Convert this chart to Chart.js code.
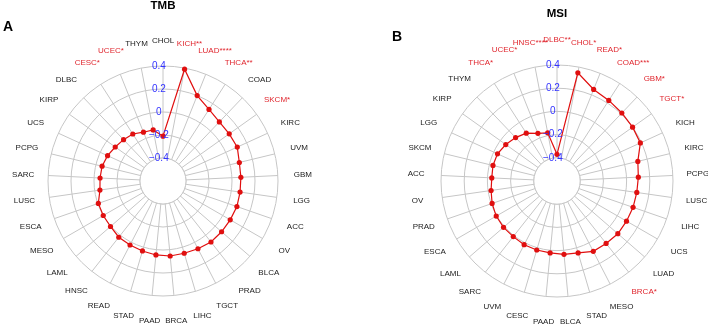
<!DOCTYPE html>
<html>
<head>
<meta charset="utf-8">
<script src="https://cdn.jsdelivr.net/npm/chart.js@4"></script>
<style>
  html, body { margin: 0; padding: 0; background: #fff; overflow: hidden; }
  body { width: 708px; height: 326px; position: relative; }
  canvas { position: absolute; top: 0; }
  #tmb { left: 0; }
  #msi { left: 354px; }
</style>
</head>
<body>
<canvas id="tmb" width="354" height="326" style="width:354px;height:326px"></canvas>
<canvas id="msi" width="354" height="326" style="width:354px;height:326px"></canvas>
<script>
const tmbCancers = ["CHOL", "KICH**", "LUAD****", "THCA**", "COAD", "SKCM*", "KIRC", "UVM", "GBM", "LGG", "ACC",
  "OV", "BLCA", "PRAD", "TGCT", "LIHC", "BRCA", "PAAD", "STAD", "READ", "HNSC", "LAML", "MESO", "ESCA",
  "LUSC", "SARC", "PCPG", "UCS", "KIRP", "DLBC", "CESC*", "UCEC*", "THYM"];
const tmbValues = [-0.21, 0.39, 0.2, 0.14, 0.11, 0.107, 0.11, 0.083, 0.078, 0.077, 0.08,
  0.075, 0.074, 0.075, 0.063, 0.055, 0.055, 0.046, 0.034, 0.026, 0.022, 0.004, 0.0, -0.005,
  -0.046, -0.052, -0.055, -0.07, -0.09, -0.103, -0.114, -0.143, -0.148];

const msiCancers = ["DLBC**", "CHOL*", "READ*", "COAD***", "GBM*", "TGCT*", "KICH", "KIRC", "PCPG", "LUSC", "LIHC",
  "UCS", "LUAD", "BRCA*", "MESO", "STAD", "BLCA", "PAAD", "CESC", "UVM", "SARC", "LAML", "ESCA",
  "PRAD", "OV", "ACC", "SKCM", "LGG", "KIRP", "THYM", "THCA*", "UCEC*", "HNSC****"];
const msiValues = [-0.37, 0.35, 0.25, 0.226, 0.21, 0.2, 0.19, 0.117, 0.102, 0.095, 0.094,
  0.092, 0.094, 0.085, 0.082, 0.046, 0.035, 0.023, 0.02, 0.018, 0.01, 0.01, 0.005,
  -0.008, -0.026, -0.037, -0.032, -0.036, -0.058, -0.083, -0.11, -0.157, -0.177];

// scale runs from -0.6 (centre) so that the -0.4 ring leaves a hole
const axisMin = -0.6;
const axisMax = 0.4;
const holeValue = -0.4;

const red = "#e00f0f";
const labelRed = "#e0262e";
const gridColor = "#c6c6c6";
const tickBlue = "#3333ff";
const fontFamily = "'Liberation Sans', Arial, sans-serif";

function makeRadar(id, labels, values, title, pad) {
  const radarExtras = {
    id: "radarExtras",
    beforeDatasetsDraw(chart) {
      const r = chart.scales.r;
      const ctx = chart.ctx;
      const rad = r.getDistanceFromCenterForValue(holeValue);
      ctx.save();
      ctx.beginPath();
      ctx.arc(r.xCenter, r.yCenter, rad, 0, Math.PI * 2);
      ctx.fillStyle = "#fff";
      ctx.fill();
      ctx.strokeStyle = gridColor;
      ctx.lineWidth = 1;
      ctx.stroke();
      ctx.restore();
    },
    afterDraw(chart) {
      const r = chart.scales.r;
      const ctx = chart.ctx;
      ctx.save();
      // category names, centred on a ring outside the plot
      ctx.textBaseline = "middle";
      ctx.textAlign = "center";
      ctx.font = "8px " + fontFamily;
      chart.data.labels.forEach((name, i) => {
        const p = r.getPointPosition(i, r.drawingArea + 25);
        ctx.fillStyle = name.includes("*") ? labelRed : "#222";
        ctx.fillText(name, p.x, p.y);
      });
      ctx.fillStyle = "#000";
      ctx.font = "bold 11.5px " + fontFamily;
      ctx.fillText(title.text, title.x, title.y);
      ctx.textAlign = "left";
      ctx.font = "bold 14px " + fontFamily;
      ctx.fillText(title.letter, title.lx, title.ly);
      ctx.restore();
    },
  };

  return new Chart(document.getElementById(id), {
    type: "radar",
    data: {
      labels: labels,
      datasets: [
        {
          data: values,
          borderColor: red,
          backgroundColor: red,
          borderWidth: 1.2,
          fill: false,
          pointRadius: 2.6,
          pointBorderWidth: 0,
          pointBackgroundColor: red,
          tension: 0,
        },
      ],
    },
    options: {
      responsive: false,
      animation: false,
      layout: { padding: pad },
      plugins: {
        legend: { display: false },
        tooltip: { enabled: false },
      },
      scales: {
        r: {
          min: axisMin,
          max: axisMax,
          startAngle: 0,
          grid: { circular: true, color: gridColor, lineWidth: 1 },
          angleLines: { color: gridColor, lineWidth: 1 },
          pointLabels: { display: false },
          ticks: {
            z: 1,
            stepSize: 0.2,
            showLabelBackdrop: false,
            color: tickBlue,
            font: { family: fontFamily, size: 10 },
            callback: function (value) {
              const v = Math.round(value * 10) / 10;
              if (v < holeValue) return "";
              // trailing spaces nudge the centred label to the left of the axis
              if (v === 0) return "0   ";
              return (v < 0 ? "\u2212" : "") + Math.abs(v).toFixed(1) + "   ";
            },
          },
        },
      },
    },
    plugins: [radarExtras],
  });
}

makeRadar("tmb", tmbCancers, tmbValues,
  { text: "TMB", x: 163, y: 6, letter: "A", lx: 3, ly: 27 },
  { left: 41, right: 69, top: 59, bottom: 23 });

makeRadar("msi", msiCancers, msiValues,
  { text: "MSI", x: 203, y: 14, letter: "B", lx: 38, ly: 37 },
  { left: 80, right: 28, top: 58, bottom: 22 });
</script>
</body>
</html>
